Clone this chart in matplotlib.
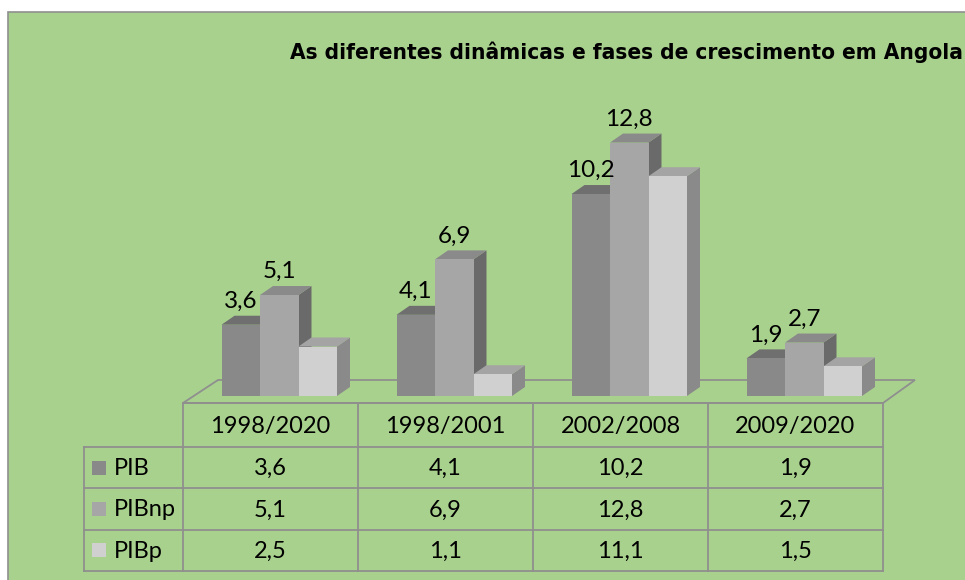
import matplotlib
matplotlib.use("Agg")
import matplotlib.pyplot as plt
from matplotlib.patches import Rectangle, Polygon

# ---- dados ----
periodos = ["1998/2020", "1998/2001", "2002/2008", "2009/2020"]
series = ["PIB", "PIBnp", "PIBp"]
pib = [3.6, 4.1, 10.2, 1.9]
pib_np = [5.1, 6.9, 12.8, 2.7]
pib_p = [2.5, 1.1, 11.1, 1.5]
valores = [pib, pib_np, pib_p]
com_rotulo = [True, True, False]

titulo = "As diferentes dinâmicas e fases de crescimento em Angola"

# cores (frente, topo, lado)
cores = [("#898989", "#6f6f6f", "#6f6f6f"),
         ("#a6a6a6", "#8a8a8a", "#6a6a6a"),
         ("#d0d0d0", "#a4a4a4", "#8a8a8a")]
verde = "#a9d18e"
cinza = "#8f8f8f"

W, H = 965, 580
fig = plt.figure(figsize=(W / 100, H / 100), dpi=100)
fig.patch.set_facecolor("white")

# ---- eixo em pixels para fundo, titulo e tabela ----
px = fig.add_axes([0, 0, 1, 1])
px.set_xlim(0, W)
px.set_ylim(H, 0)
px.axis("off")
px.patch.set_alpha(0)

# fundo verde
px.add_patch(Rectangle((8, 12), W + 20, H + 20, facecolor=verde,
                       edgecolor=cinza, linewidth=1.2, zorder=0))

px.text(626, 52, titulo, ha="center", va="center", fontsize=16.2,
        fontweight="bold", family=["Liberation Sans Narrow", "DejaVu Sans"],
        stretch="condensed")

fonte = ["Lato", "DejaVu Sans"]
x0, col_w, lab_x = 183, 175, 84
y_top, y_head = 403, 447
row_h = 41.3
n = len(periodos)
x_end = x0 + n * col_w
y_bot = y_head + len(series) * row_h
lw = 1.3

# linhas da tabela
px.plot([x0, x_end], [y_top, y_top], color=cinza, lw=lw)
for i in range(n + 1):
    px.plot([x0 + i * col_w] * 2, [y_top, y_bot], color=cinza, lw=lw)
px.plot([lab_x, lab_x], [y_head, y_bot], color=cinza, lw=lw)
for j in range(len(series) + 1):
    yy = y_head + j * row_h
    px.plot([lab_x, x_end], [yy, yy], color=cinza, lw=lw)

for i, p in enumerate(periodos):
    px.text(x0 + (i + 0.5) * col_w, (y_top + y_head) / 2 + 1, p,
            ha="center", va="center", fontsize=17, family=fonte)

for j, (s, vals) in enumerate(zip(series, valores)):
    yc = y_head + (j + 0.5) * row_h
    px.add_patch(Rectangle((92, yc - 7), 14, 14, facecolor=cores[j][0],
                           edgecolor="none"))
    px.text(114, yc + 1, s, ha="left", va="center", fontsize=17,
            family=fonte)
    for i, v in enumerate(vals):
        px.text(x0 + (i + 0.5) * col_w, yc + 1, f"{v:.1f}".replace(".", ","),
                ha="center", va="center", fontsize=17, family=fonte)

# ---- eixo das barras ----
base_px = 396
px_por_unidade = 19.8
ymax = 14
ax = fig.add_axes([x0 / W, (H - base_px) / H, n * col_w / W,
                   ymax * px_por_unidade / H])
ax.set_xlim(-0.5, n - 0.5)
ax.set_ylim(0, ymax)
ax.axis("off")
ax.patch.set_alpha(0)

larg = 0.22
desloc = [-0.28, -0.06, 0.16]
dx = 13 / col_w
dy = 9 / px_por_unidade

# chao
f_front = -7 / px_por_unidade
f_back = 16 / px_por_unidade
chao = [(-0.5, f_front), (-0.5 + 35 / col_w, f_back),
        (n - 0.5 + 32 / col_w, f_back), (n - 0.5, f_front)]
ax.add_patch(Polygon(chao, closed=True, facecolor="none", edgecolor=cinza,
                     lw=lw, clip_on=False, zorder=1))

for i in range(n):
    for j, vals in enumerate(valores):
        v = vals[i]
        xl = i + desloc[j]
        xr = xl + larg
        fr, tp, sd = cores[j]
        ax.add_patch(Polygon([(xr, 0), (xr + dx, dy), (xr + dx, v + dy), (xr, v)],
                             facecolor=sd, edgecolor="none", clip_on=False, zorder=2))
        ax.add_patch(Polygon([(xl, v), (xl + dx, v + dy), (xr + dx, v + dy), (xr, v)],
                             facecolor=tp, edgecolor="none", clip_on=False, zorder=2))
        ax.bar(xl, v, width=larg, align="edge", color=fr, edgecolor="none",
               zorder=2, clip_on=False)
        if com_rotulo[j]:
            ax.annotate(f"{v:.1f}".replace(".", ","), (xl + larg / 2, v),
                        xytext=(0, 17), textcoords="offset pixels",
                        ha="center", va="baseline", fontsize=17.5,
                        family=fonte, zorder=3)

fig.savefig("out.png", dpi=100, facecolor=fig.get_facecolor())
